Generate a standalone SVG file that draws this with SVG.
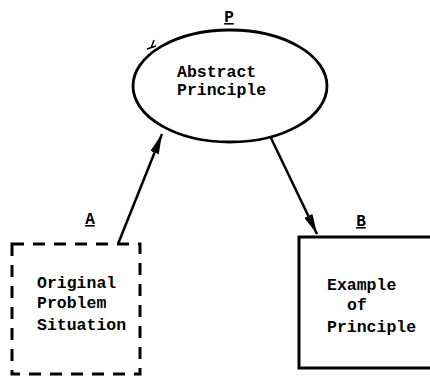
<svg xmlns="http://www.w3.org/2000/svg" width="430" height="380" viewBox="0 0 430 380">
<style>
text{font-family:"Liberation Mono","DejaVu Sans Mono",monospace;font-weight:bold;fill:#000;font-size:16.5px}
.lbl{font-size:16px;text-decoration:underline}
.edge{stroke:#000;stroke-width:2.5;fill:none}
</style>
<defs>
<marker id="ah" viewBox="0 0 20 10" refX="20" refY="5" markerWidth="20" markerHeight="9" markerUnits="userSpaceOnUse" orient="auto" preserveAspectRatio="none">
<path d="M0,0 L20,5 L0,10 Z" fill="#000"/>
</marker>
</defs>
<rect width="430" height="380" fill="#fff"/>
<g id="principle">
<ellipse cx="230" cy="86" rx="97" ry="56" fill="none" stroke="#000" stroke-width="2.8"/>
<path d="M151,48 L154,40 M147,49 L156,46" stroke="#000" stroke-width="1.5" fill="none"/>
<text class="lbl" x="229" y="22" text-anchor="middle">P</text>
<text x="177" y="77">Abstract</text>
<text x="177" y="95">Principle</text>
</g>
<g id="original">
<rect x="12" y="244" width="128" height="130" fill="none" stroke="#000" stroke-width="3" stroke-dasharray="12,9"/>
<text class="lbl" x="90" y="224" text-anchor="middle">A</text>
<text x="37" y="288">Original</text>
<text x="37" y="308">Problem</text>
<text x="37" y="330">Situation</text>
</g>
<g id="example">
<rect x="299" y="237" width="135" height="131" fill="none" stroke="#000" stroke-width="3"/>
<text class="lbl" x="361" y="226" text-anchor="middle">B</text>
<text x="327" y="290">Example</text>
<text x="347" y="310">of</text>
<text x="327" y="332">Principle</text>
</g>
<g id="connectors">
<line class="edge" x1="118" y1="244" x2="162" y2="134" marker-end="url(#ah)"/>
<line class="edge" x1="271" y1="138" x2="317" y2="234" marker-end="url(#ah)"/>
</g>
</svg>
